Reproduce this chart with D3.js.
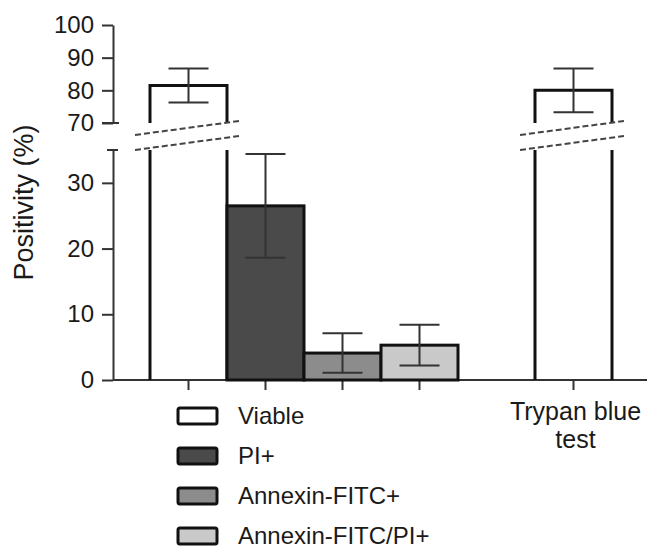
<!DOCTYPE html>
<html>
<head>
<meta charset="utf-8">
<script src="https://cdn.jsdelivr.net/npm/d3@7"></script>
<style>
  body { margin: 0; background: #fff; }
  svg { font-family: "Liberation Sans", Arial, sans-serif; }
</style>
</head>
<body>
<svg id="chart" width="647" height="550"></svg>
<script>
// slots on the x axis ("gap" is the empty slot before the trypan blue bar)
const slots = ["Viable", "PI+", "Annexin-FITC+", "Annexin-FITC/PI+", "gap", "Trypan blue test"];
const means = [81.5, 26.5, 4.1, 5.3, null, 80.0];
const errors = [5.2, 7.9, 3.0, 3.1, null, 6.7];
const fills = ["#ffffff", "#4a4a4a", "#8c8c8c", "#c9c9c9", null, "#ffffff"];
const legendLabels = ["Viable", "PI+", "Annexin-FITC+", "Annexin-FITC/PI+"];
const lowTicks = [0, 10, 20, 30];
const highTicks = [70, 80, 90, 100];

const svg = d3.select("#chart");

const x = d3.scaleBand().domain(slots).range([150, 612]).padding(0);
const yLow = d3.scaleLinear().domain([0, 35]).range([380, 150]);
const yHigh = d3.scaleLinear().domain([70, 100]).range([123, 25]);
const y = v => v <= 35 ? yLow(v) : yHigh(v);

const axisColor = "#333";
const textColor = "#1a1a1a";
const axisX = 113;

// y axis, lower segment
const gLow = svg.append("g")
    .attr("transform", `translate(${axisX},0)`)
    .call(d3.axisLeft(yLow).tickValues(lowTicks).tickSize(11).tickPadding(8).tickSizeOuter(0));

// y axis, upper segment
const gHigh = svg.append("g")
    .attr("transform", `translate(${axisX},0)`)
    .call(d3.axisLeft(yHigh).tickValues(highTicks).tickSize(11).tickPadding(8).tickSizeOuter(0));

[gLow, gHigh].forEach(g => {
    g.select(".domain").attr("stroke", axisColor).attr("stroke-width", 2);
    g.selectAll(".tick line").attr("stroke", axisColor).attr("stroke-width", 2);
    g.selectAll(".tick text").attr("fill", textColor).style("font-size", "24px");
});

// break caps on the y axis
svg.append("line")
    .attr("x1", axisX - 11).attr("x2", axisX + 6)
    .attr("y1", yHigh(70)).attr("y2", yHigh(70))
    .attr("stroke", axisColor).attr("stroke-width", 2);
svg.append("line")
    .attr("x1", axisX - 6).attr("x2", axisX + 5)
    .attr("y1", yLow(35)).attr("y2", yLow(35))
    .attr("stroke", axisColor).attr("stroke-width", 2);

// x axis
const xTicks = slots.filter(s => s !== "gap");
const gx = svg.append("g")
    .attr("transform", `translate(0,${yLow(0)})`)
    .call(d3.axisBottom(x).tickValues(xTicks).tickSize(10).tickSizeOuter(0).tickFormat(""));
gx.select(".domain").attr("d", `M${axisX},0H647`).attr("stroke", axisColor).attr("stroke-width", 2);
gx.selectAll(".tick line").attr("stroke", axisColor).attr("stroke-width", 2);

// trypan blue label
const tx = x("Trypan blue test") + x.bandwidth() / 2 + 2;
const tl = svg.append("text")
    .attr("text-anchor", "middle")
    .attr("fill", textColor)
    .style("font-size", "25px");
tl.append("tspan").attr("x", tx).attr("y", 420).text("Trypan blue");
tl.append("tspan").attr("x", tx).attr("y", 448).text("test");

// bars
const bars = slots.map((s, i) => ({ slot: s, mean: means[i], err: errors[i], fill: fills[i] }))
    .filter(d => d.mean !== null);

bars.forEach(d => {
    const x0 = x(d.slot), x1 = x(d.slot) + x.bandwidth();
    if (d.mean <= 35) {
        svg.append("rect")
            .attr("x", x0).attr("y", yLow(d.mean))
            .attr("width", x.bandwidth()).attr("height", yLow(0) - yLow(d.mean))
            .attr("fill", d.fill).attr("stroke", "#111").attr("stroke-width", 3);
    } else {
        // lower piece: only side edges
        svg.append("path")
            .attr("d", `M${x0},${yLow(0)}V${yLow(35)}M${x1},${yLow(0)}V${yLow(35)}`)
            .attr("fill", "none").attr("stroke", "#111").attr("stroke-width", 3);
        // upper piece
        svg.append("path")
            .attr("d", `M${x0},${yHigh(70)}V${yHigh(d.mean)}H${x1}V${yHigh(70)}`)
            .attr("fill", "none").attr("stroke", "#111").attr("stroke-width", 3);
        // break marks
        [0, 15].forEach(off => {
            svg.append("line")
                .attr("x1", x0 - 15).attr("y1", yHigh(70) + 12 + off)
                .attr("x2", x1 + 12).attr("y2", yHigh(70) - 2 + off)
                .attr("stroke", "#444").attr("stroke-width", 2)
                .attr("stroke-dasharray", "6,3");
        });
    }
    // error bar
    const cx = x0 + x.bandwidth() / 2;
    const top = y(d.mean + d.err), bot = y(d.mean - d.err);
    svg.append("path")
        .attr("d", `M${cx},${top}V${bot}M${cx - 20},${top}H${cx + 20}M${cx - 20},${bot}H${cx + 20}`)
        .attr("fill", "none").attr("stroke", "#333").attr("stroke-width", 2);
});

// y axis title
svg.append("text")
    .attr("transform", `translate(33,${(yLow(0) + yHigh(100)) / 2}) rotate(-90)`)
    .attr("text-anchor", "middle")
    .attr("fill", textColor)
    .style("font-size", "27px")
    .text("Positivity (%)");

// legend
const legend = svg.append("g");
legendLabels.forEach((lab, i) => {
    const cy = 416 + i * 40;
    legend.append("rect")
        .attr("x", 178).attr("y", cy - 8)
        .attr("width", 39).attr("height", 16)
        .attr("rx", 2)
        .attr("fill", fills[i]).attr("stroke", "#111").attr("stroke-width", 3);
    legend.append("text")
        .attr("x", 238).attr("y", cy + 8)
        .attr("fill", textColor)
        .style("font-size", "24px")
        .text(lab);
});
</script>
</body>
</html>
